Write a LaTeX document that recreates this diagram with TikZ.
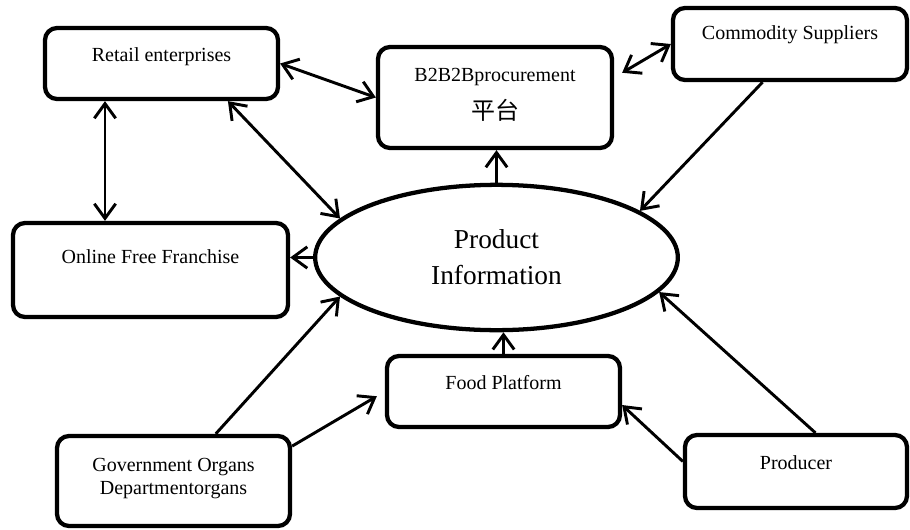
\documentclass[tikz,border=0pt]{standalone}
\usepackage{fontspec}
\setmainfont{Liberation Serif}
\newfontfamily\cjk{Noto Sans CJK SC}
\usepackage{tikz}
\usetikzlibrary{arrows.meta,shapes.geometric,fit,calc}
\tikzset{every picture/.style={line width=0.75pt}}

\begin{document}
\begin{tikzpicture}[x=0.75pt,y=0.75pt,yscale=-1,xscale=1,
    >={Straight Barb[length=11pt,width=16pt]},
    box/.style={draw, line width=3.2pt, rounded corners=9pt, inner sep=0pt},
    info/.style={draw, ellipse, line width=3.2pt, inner sep=0pt, minimum width=272pt, minimum height=109pt, align=center, font=\fontsize{20.5}{27}\selectfont},
    lbl/.style={inner sep=0.75pt, font=\fontsize{15}{18}\selectfont},
    link/.style={line width=2.2pt, ->},
    both/.style={line width=2.2pt, <->}]
    \useasboundingbox (0,0) rectangle (910,529);
    % boxes
    \node[box, fit={(45,28) (278,99)}] (retail) {};
    \node[lbl] (retail-t) at (161.5,57) {Retail enterprises};
    \node[box, fit={(378,47) (612,148)}] (b2b) {};
    \node[lbl] (b2b-t) at (495,77) {B2B2Bprocurement};
    \node[lbl, font=\cjk\fontsize{18}{18}\selectfont] (b2b-c) at (495,110) {平台};
    \node[box, fit={(673,8) (907,80)}] (supplier) {};
    \node[lbl] (supplier-t) at (790,35) {Commodity Suppliers};
    \node[box, fit={(13,223) (288,317)}] (online) {};
    \node[lbl] (online-t) at (150.5,257) {Online Free Franchise};
    \node[info] (info) at (496.5,257.5) {Product\\Information};
    \node[box, fit={(387,356) (620,427)}] (food) {};
    \node[lbl] (food-t) at (503.5,383) {Food Platform};
    \node[box, fit={(57,436) (290,526)}] (gov) {};
    \node[lbl, align=center, font=\fontsize{15}{17}\selectfont] (gov-t) at (173.5,478.5) {Government Organs\\Departmentorgans};
    \node[box, fit={(685,435) (907,508)}] (producer) {};
    \node[lbl] (producer-t) at (796,463) {Producer};
    % connectors
    \coordinate (vx) at (105,0);
    \draw[both] (retail.south -| vx) -- (online.north -| vx);
    \draw[both] (retail.east) -- (b2b.west);
    \draw[both, shorten <=7pt] ($(b2b.east)+(0,-20)$) -- (supplier.west);
    \draw[both] ($(retail.south west)!0.78!(retail.south east)$) -- (info.166);
    \draw[link] (info.north) -- (info.north |- b2b.south);
    \draw[link] ($(supplier.south west)!0.385!(supplier.south east)$) -- (info.18);
    \draw[link] (info.west) -- (info.west -| online.east);
    \draw[link] ($(gov.north west)!0.678!(gov.north east)$) -- (info.194);
    \draw[link, shorten >=7pt] ($(gov.north east)!0.13!(gov.south east)$) -- (food.west);
    \draw[link] (food.north) -- (food.north |- info.south);
    \draw[link] ($(producer.north west)!0.37!(producer.south west)$) -- ($(food.north east)!0.68!(food.south east)$);
    \draw[link] ($(producer.north west)!0.586!(producer.north east)$) -- (info.348);
\end{tikzpicture}
\end{document}
